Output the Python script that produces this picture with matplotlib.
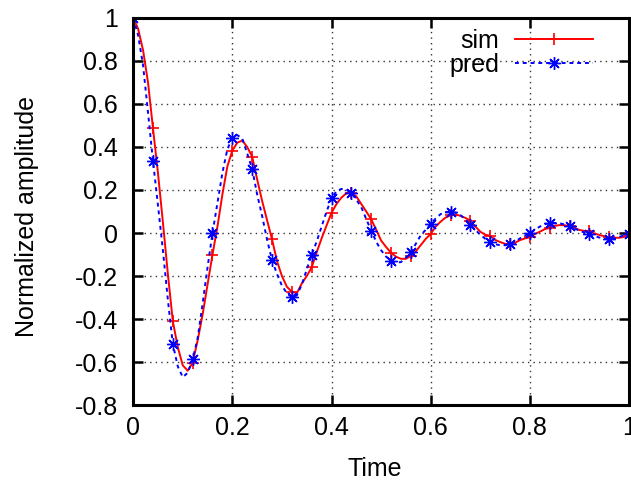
import matplotlib
matplotlib.use('Agg')
import matplotlib.pyplot as plt

# sampled time points (markers drawn every 4th sample)
time = [0.00, 0.01, 0.02, 0.03, 0.04, 0.05, 0.06, 0.07, 0.08, 0.09,
        0.10, 0.11, 0.12, 0.13, 0.14, 0.15, 0.16, 0.17, 0.18, 0.19,
        0.20, 0.21, 0.22, 0.23, 0.24, 0.25, 0.26, 0.27, 0.28, 0.29,
        0.30, 0.31, 0.32, 0.33, 0.34, 0.35, 0.36, 0.37, 0.38, 0.39,
        0.40, 0.41, 0.42, 0.43, 0.44, 0.45, 0.46, 0.47, 0.48, 0.49,
        0.50, 0.51, 0.52, 0.53, 0.54, 0.55, 0.56, 0.57, 0.58, 0.59,
        0.60, 0.61, 0.62, 0.63, 0.64, 0.65, 0.66, 0.67, 0.68, 0.69,
        0.70, 0.71, 0.72, 0.73, 0.74, 0.75, 0.76, 0.77, 0.78, 0.79,
        0.80, 0.81, 0.82, 0.83, 0.84, 0.85, 0.86, 0.87, 0.88, 0.89,
        0.90, 0.91, 0.92, 0.93, 0.94, 0.95, 0.96, 0.97, 0.98, 0.99,
        1.00]

sim = [1.00, 0.95, 0.85, 0.70, 0.487, 0.28, 0.05, -0.19, -0.41, -0.53,
       -0.615, -0.64, -0.603, -0.50, -0.38, -0.24, -0.10, 0.03, 0.18, 0.31,
       0.383, 0.42, 0.43, 0.40, 0.355, 0.25, 0.15, 0.06, -0.029, -0.13,
       -0.20, -0.25, -0.273, -0.28, -0.235, -0.20, -0.16, -0.09, -0.025, 0.035,
       0.094, 0.135, 0.165, 0.185, 0.187, 0.17, 0.135, 0.10, 0.064, 0.015,
       -0.035, -0.065, -0.092, -0.11, -0.12, -0.12, -0.107, -0.085, -0.056, -0.027,
       -0.004, 0.03, 0.053, 0.072, 0.082, 0.086, 0.08, 0.07, 0.058, 0.03,
       0.006, -0.008, -0.013, -0.032, -0.042, -0.05, -0.053, -0.045, -0.033, -0.025,
       -0.02, -0.005, 0.006, 0.018, 0.024, 0.033, 0.037, 0.036, 0.033, 0.024,
       0.014, 0.01, 0.008, -0.002, -0.009, -0.015, -0.02, -0.022, -0.022, -0.018,
       -0.012]

pred = [1.00, 0.92, 0.78, 0.56, 0.335, 0.13, -0.08, -0.31, -0.516, -0.62,
        -0.67, -0.65, -0.587, -0.49, -0.33, -0.16, 0.0, 0.14, 0.28, 0.39,
        0.443, 0.455, 0.44, 0.37, 0.298, 0.18, 0.08, -0.03, -0.126, -0.19,
        -0.245, -0.28, -0.299, -0.29, -0.24, -0.17, -0.10, -0.04, 0.03, 0.10,
        0.161, 0.195, 0.205, 0.20, 0.187, 0.155, 0.12, 0.065, 0.011, -0.04,
        -0.08, -0.11, -0.129, -0.138, -0.135, -0.115, -0.087, -0.05, -0.01, 0.015,
        0.042, 0.068, 0.088, 0.098, 0.099, 0.095, 0.083, 0.063, 0.038, 0.015,
        -0.008, -0.027, -0.042, -0.052, -0.057, -0.057, -0.053, -0.04, -0.025, -0.012,
        0.0, 0.015, 0.03, 0.04, 0.046, 0.047, 0.045, 0.04, 0.033, 0.022,
        0.01, 0.002, -0.005, -0.014, -0.021, -0.026, -0.027, -0.025, -0.018, -0.011,
        -0.006]

xticks = [0, 0.2, 0.4, 0.6, 0.8, 1]
xticklabels = ['0', '0.2', '0.4', '0.6', '0.8', '1']
yticks = [-0.8, -0.6, -0.4, -0.2, 0, 0.2, 0.4, 0.6, 0.8, 1]
yticklabels = ['-0.8', '-0.6', '-0.4', '-0.2', '0', '0.2', '0.4', '0.6', '0.8', '1']

plt.rcParams['font.family'] = ['Liberation Sans', 'DejaVu Sans']
plt.rcParams['font.size'] = 18
plt.rcParams['axes.unicode_minus'] = False

fig = plt.figure(figsize=(6.31, 4.84), dpi=100)
ax = fig.add_axes([0.211, 0.163, 0.786, 0.800])

# gnuplot style asterisk: + and x on top of each other
star = (8, 2, 0)

ax.plot(time, sim, color='red', lw=1.4, marker='+', markersize=9,
        markeredgewidth=1.2, markevery=4, label='sim')
ax.plot(time, pred, color='blue', lw=1.4, linestyle=(0, (2, 2)), marker=star,
        markersize=9, markeredgewidth=1.0, markevery=4, label='pred')

ax.set_xlim(0, 1)
ax.set_ylim(-0.8, 1)
ax.set_xticks(xticks)
ax.set_xticklabels(xticklabels)
ax.set_yticks(yticks)
ax.set_yticklabels(yticklabels)

ax.grid(True, color='#333333', linestyle=(0, (1, 3)), lw=1)
ax.tick_params(direction='in', top=True, right=True, length=7, width=1.8)
ax.tick_params(axis='x', pad=8)
ax.tick_params(axis='y', pad=11)
for s in ax.spines.values():
    s.set_linewidth(2.2)

ax.set_xlabel('Time')
ax.set_ylabel('Normalized amplitude')
ax.xaxis.set_label_coords(0.488, -0.135)
ax.yaxis.set_label_coords(-0.19, 0.486)

ax.legend(loc='upper right', frameon=False, markerfirst=False, numpoints=1,
          handlelength=3.1, handletextpad=0.65, labelspacing=0.0,
          borderaxespad=0.0, bbox_to_anchor=(0.947, 0.997))

plt.savefig('out.png', dpi=100)
